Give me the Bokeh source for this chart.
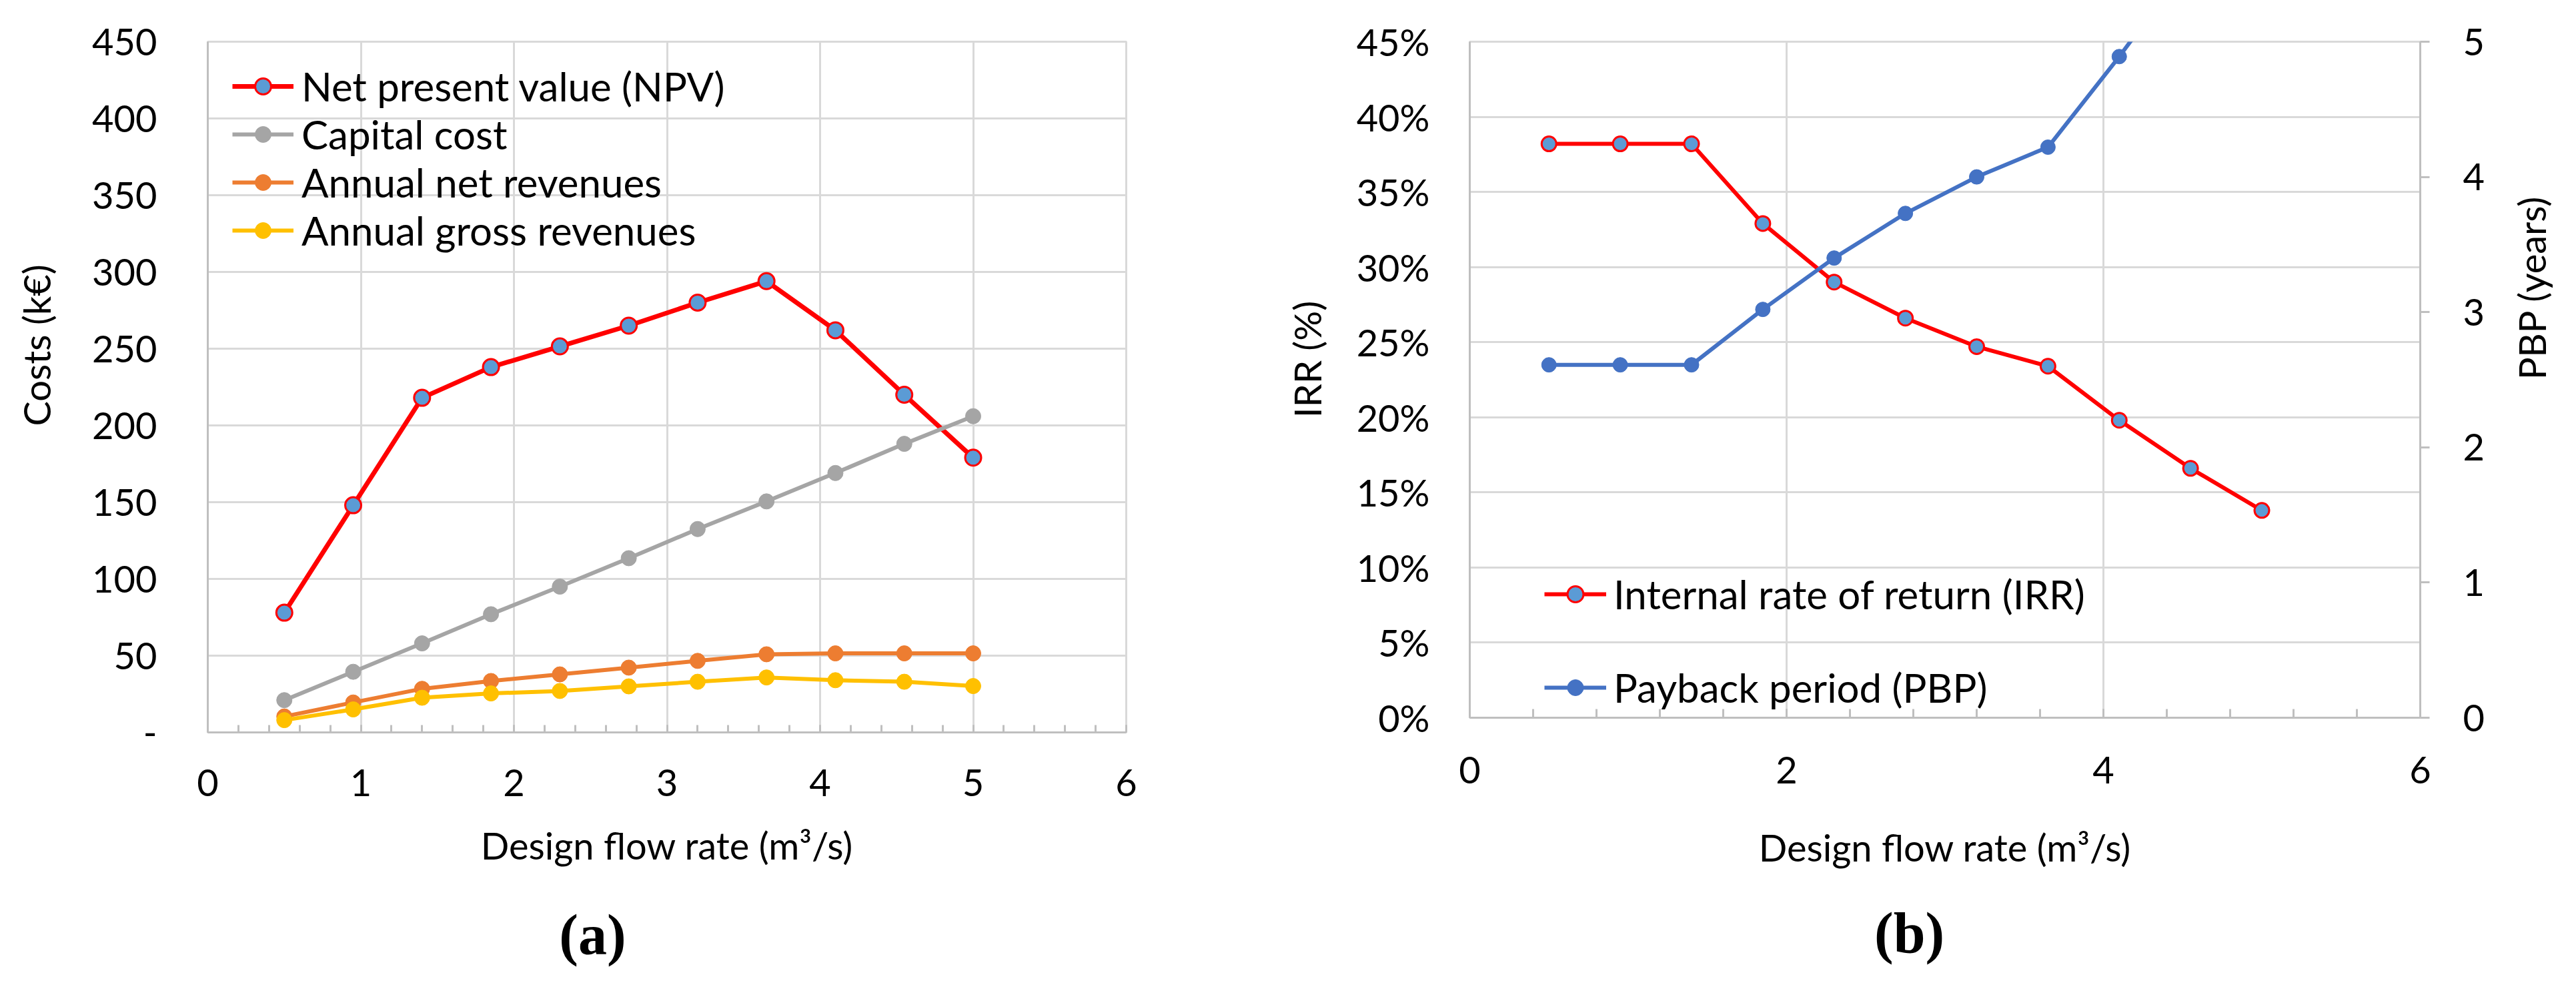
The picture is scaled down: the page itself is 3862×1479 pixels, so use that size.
import math
from bokeh.plotting import figure
from bokeh.models import Range1d, LinearAxis, FixedTicker, Legend, LegendItem
from bokeh.layouts import row
from bokeh.embed import file_html
from bokeh.resources import INLINE

# ---------------- data ----------------
flow = [0.5, 0.95, 1.4, 1.85, 2.3, 2.75, 3.2, 3.65, 4.1, 4.55, 5.0]
npv = [78, 148, 218, 238, 251.5, 265, 280, 294, 262, 220, 179]
capital = [21, 39.5, 58, 77, 95, 113.5, 132.5, 150.5, 169, 188, 206]
net_rev = [10.4, 19.5, 28.4, 33.5, 37.8, 42.2, 46.6, 50.9, 51.5, 51.5, 51.5]
gross_rev = [8, 15, 22.6, 25.4, 27, 30, 33, 35.8, 34, 33, 30.2]
irr = [38.2, 38.2, 38.2, 32.9, 29.0, 26.6, 24.7, 23.4, 19.8, 16.6, 13.8]
pbp = [2.61, 2.61, 2.61, 3.02, 3.40, 3.73, 4.00, 4.22, 4.89, 5.6, 6.4]

cost_ticks = [0, 50, 100, 150, 200, 250, 300, 350, 400, 450]
irr_ticks = [0, 5, 10, 15, 20, 25, 30, 35, 40, 45]
pbp_ticks = [0, 1, 2, 3, 4, 5]

FONT = "Lato"
FS = "56px"
LFS = "60px"
GRID = "#d9d9d9"
AXIS = "#bfbfbf"


def style_axis(ax):
    ax.axis_line_color = AXIS
    ax.axis_line_width = 3
    ax.major_tick_line_color = AXIS
    ax.minor_tick_line_color = AXIS
    ax.major_tick_line_width = 3
    ax.minor_tick_line_width = 3
    ax.major_label_text_font = FONT
    ax.major_label_text_font_size = FS
    ax.major_label_text_color = "black"
    ax.axis_label_text_font = FONT
    ax.axis_label_text_font_size = FS
    ax.axis_label_text_font_style = "normal"
    ax.axis_label_text_color = "black"


def text_axis(pos, text, standoff, font=FONT, size=FS, style="normal", orientation="horizontal"):
    # an axis with no line and no ticks, used only to place one title-like text
    ax = LinearAxis(ticker=FixedTicker(ticks=[pos]), major_label_overrides={pos: text})
    ax.axis_line_color = None
    ax.major_tick_line_color = None
    ax.minor_tick_line_color = None
    ax.major_tick_in = 0
    ax.major_tick_out = 0
    ax.minor_tick_in = 0
    ax.minor_tick_out = 0
    ax.major_label_standoff = standoff
    ax.major_label_text_font = font
    ax.major_label_text_font_size = size
    ax.major_label_text_font_style = style
    ax.major_label_text_color = "black"
    ax.major_label_orientation = orientation
    return ax


def style_fig(p):
    p.outline_line_color = GRID
    p.outline_line_width = 3
    p.background_fill_color = "white"
    p.border_fill_color = "white"


# ---------------- chart (a) ----------------
p1 = figure(frame_width=1377, frame_height=1035, x_range=Range1d(0, 6), y_range=Range1d(0, 450),
            output_backend="svg", toolbar_location=None, title=None,
            min_border_left=311, min_border_right=192, min_border_top=62, min_border_bottom=366)
style_fig(p1)

p1.xaxis.ticker = FixedTicker(ticks=[0, 1, 2, 3, 4, 5, 6],
                              minor_ticks=[i * 0.2 for i in range(31)])
p1.yaxis.ticker = FixedTicker(ticks=cost_ticks)
p1.yaxis.major_label_overrides = {0: "-"}
for ax in p1.xaxis + p1.yaxis:
    style_axis(ax)
p1.xaxis.major_tick_in = 11
p1.xaxis.major_tick_out = 0
p1.xaxis.minor_tick_in = 11
p1.xaxis.minor_tick_out = 0
p1.xaxis.major_label_standoff = 55
p1.xaxis.axis_label = "Design flow rate (m³/s)"
p1.xaxis.axis_label_standoff = 37
p1.yaxis.major_tick_in = 0
p1.yaxis.major_tick_out = 0
p1.yaxis.minor_tick_in = 0
p1.yaxis.minor_tick_out = 0
p1.yaxis.major_label_standoff = 76

# y title (placed at its own height) and caption (a)
p1.add_layout(text_axis(252.2, "Costs (k€)", 47, orientation="vertical"), "left")
p1.add_layout(text_axis(2.514, "(a)", 50, font="Liberation Serif", size="86px", style="bold"),
              "below")

p1.xgrid.ticker = FixedTicker(ticks=[0, 1, 2, 3, 4, 5, 6])
p1.ygrid.ticker = FixedTicker(ticks=cost_ticks)
for g in (p1.xgrid, p1.ygrid):
    g.grid_line_color = GRID
    g.grid_line_width = 3

r_npv_l = p1.line(flow, npv, line_color="#ff0000", line_width=7)
r_npv_m = p1.scatter(flow, npv, size=24, fill_color="#5b9bd5", line_color="#ff0000", line_width=3)
r_cap_l = p1.line(flow, capital, line_color="#a5a5a5", line_width=6)
r_cap_m = p1.scatter(flow, capital, size=23, fill_color="#a5a5a5", line_color="#a5a5a5")
r_net_l = p1.line(flow, net_rev, line_color="#ed7d31", line_width=6)
r_net_m = p1.scatter(flow, net_rev, size=23, fill_color="#ed7d31", line_color="#ed7d31")
r_gro_l = p1.line(flow, gross_rev, line_color="#ffc000", line_width=6)
r_gro_m = p1.scatter(flow, gross_rev, size=23, fill_color="#ffc000", line_color="#ffc000")

leg1 = Legend(items=[
    LegendItem(label="Net present value (NPV)", renderers=[r_npv_l, r_npv_m]),
    LegendItem(label="Capital cost", renderers=[r_cap_l, r_cap_m]),
    LegendItem(label="Annual net revenues", renderers=[r_net_l, r_net_m]),
    LegendItem(label="Annual gross revenues", renderers=[r_gro_l, r_gro_m]),
], location=(37, 716), glyph_width=92, glyph_height=60, label_height=60, label_standoff=12,
    spacing=0, padding=0, margin=0, background_fill_alpha=0, border_line_color=None,
    label_text_font=FONT, label_text_font_size=LFS, label_text_color="black")
p1.add_layout(leg1)

# ---------------- chart (b) ----------------
p2 = figure(frame_width=1425, frame_height=1013, x_range=Range1d(0, 6), y_range=Range1d(0, 45),
            output_backend="svg", toolbar_location=None, title=None,
            min_border_left=323, min_border_right=218, min_border_top=62, min_border_bottom=388)
style_fig(p2)
p2.extra_y_ranges = {"pbp": Range1d(0, 5)}

p2.xaxis.ticker = FixedTicker(ticks=[0, 2, 4, 6], minor_ticks=[i * 0.4 for i in range(16)])
p2.yaxis.ticker = FixedTicker(ticks=irr_ticks)
p2.yaxis.major_label_overrides = {t: f"{t}%" for t in irr_ticks}
right_ax = LinearAxis(y_range_name="pbp", ticker=FixedTicker(ticks=pbp_ticks),
                      axis_label="PBP (years)")
try:
    right_ax.axis_label_orientation = math.pi / 2
except Exception:
    pass
p2.add_layout(right_ax, "right")
for ax in p2.xaxis + p2.yaxis + [right_ax]:
    style_axis(ax)
p2.xaxis.major_tick_in = 13
p2.xaxis.major_tick_out = 0
p2.xaxis.minor_tick_in = 13
p2.xaxis.minor_tick_out = 0
p2.xaxis.major_label_standoff = 58
p2.xaxis.axis_label = "Design flow rate (m³/s)"
p2.xaxis.axis_label_standoff = 59
yl = p2.yaxis[0]
yl.major_tick_in = 0
yl.major_tick_out = 0
yl.minor_tick_in = 0
yl.minor_tick_out = 0
yl.major_label_standoff = 60
right_ax.major_tick_in = 0
right_ax.major_tick_out = 14
right_ax.minor_tick_in = 0
right_ax.minor_tick_out = 0
right_ax.major_label_standoff = 50
right_ax.axis_label_standoff = 68

p2.add_layout(text_axis(23.86, "IRR (%)", 37, orientation="vertical"), "left")
p2.add_layout(text_axis(2.775, "(b)", 44, font="Liberation Serif", size="86px", style="bold"),
              "below")

p2.xgrid.ticker = FixedTicker(ticks=[0, 2, 4, 6])
p2.ygrid.ticker = FixedTicker(ticks=irr_ticks)
for g in (p2.xgrid, p2.ygrid):
    g.grid_line_color = GRID
    g.grid_line_width = 3

r_irr_l = p2.line(flow, irr, line_color="#ff0000", line_width=6)
r_irr_m = p2.scatter(flow, irr, size=22, fill_color="#5b9bd5", line_color="#ff0000", line_width=3)
r_pbp_l = p2.line(flow, pbp, line_color="#4472c4", line_width=6, y_range_name="pbp")
r_pbp_m = p2.scatter(flow, pbp, size=22, fill_color="#4472c4", line_color="#4472c4",
                     y_range_name="pbp")

leg2 = Legend(items=[
    LegendItem(label="Internal rate of return (IRR)", renderers=[r_irr_l, r_irr_m]),
    LegendItem(label="Payback period (PBP)", renderers=[r_pbp_l, r_pbp_m]),
], location=(112, 9), glyph_width=93, glyph_height=60, label_height=60, label_standoff=11,
    spacing=68, padding=0, margin=0, background_fill_alpha=0, border_line_color=None,
    label_text_font=FONT, label_text_font_size=LFS, label_text_color="black")
p2.add_layout(leg2)

layout = row(p1, p2)
open("out.html", "w").write(file_html(layout, INLINE))
